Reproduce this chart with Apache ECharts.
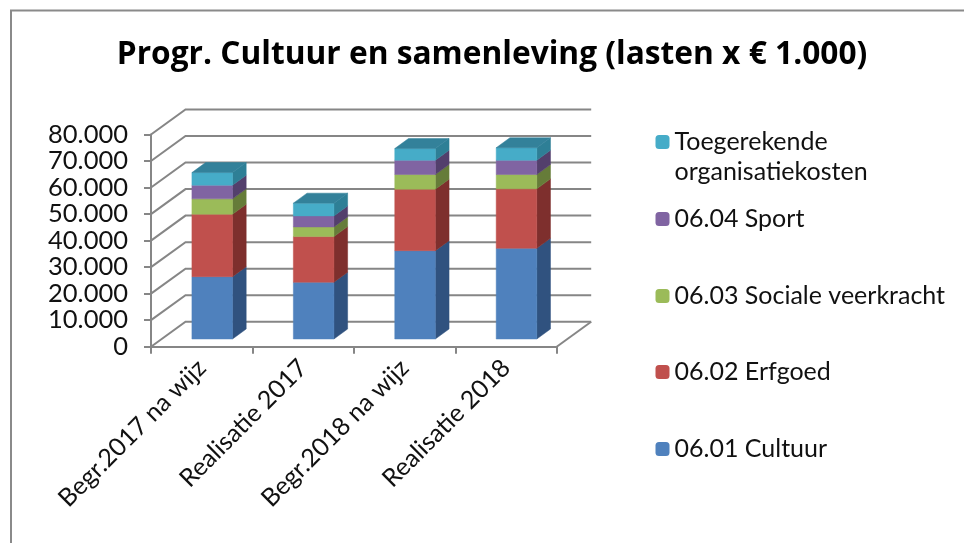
<!DOCTYPE html>
<html>
<head>
<meta charset="utf-8">
<style>html,body{margin:0;padding:0;background:#fff}#c{width:964px;height:543px;filter:blur(0.45px)}</style>
<script src="https://cdn.jsdelivr.net/npm/echarts@6/dist/echarts.min.js"></script>
</head>
<body>
<div id="c"></div>
<script>
const categories = ['Begr.2017 na wijz', 'Realisatie 2017', 'Begr.2018 na wijz', 'Realisatie 2018'];
const yTicks = [0, 10000, 20000, 30000, 40000, 50000, 60000, 70000, 80000];
const cultuur = [23500, 21400, 33300, 34200];
const erfgoed = [23550, 17200, 23200, 22400];
const sociale = [5780, 3660, 5500, 5400];
const sport = [5170, 4150, 5400, 5400];
const organisatie = [4750, 4800, 4400, 4700];

const FONT = 'Lato';
const GREY = '#868686';
const WALL = [34.5, -25], INSET = [10.5, -7.7], DEPTH = [13.7, -10];

const segs = [
  {name: '06.01 Cultuur', values: cultuur, front: '#4f81bd', side: '#30527f', legendTop: 449},
  {name: '06.02 Erfgoed', values: erfgoed, front: '#c0504d', side: '#7e2f2d', legendTop: 372},
  {name: '06.03 Sociale veerkracht', values: sociale, front: '#9bbb59', side: '#667c39', legendTop: 296},
  {name: '06.04 Sport', values: sport, front: '#8064a2', side: '#533f6c', legendTop: 219},
  {name: 'Toegerekende organisatiekosten', values: organisatie, front: '#46acc8', side: '#2e7f96', top: '#33819a', legendTop: 142}
];

const poly = (points, fill) => ({type: 'polygon', shape: {points}, style: {fill, stroke: fill, lineWidth: 0.5}});

function barSeries(seg, idx) {
  return {
    type: 'custom', name: seg.name, z: 5 + idx, silent: true,
    itemStyle: {color: seg.front},
    data: seg.values.map((v, i) => [i, v]),
    encode: {x: 0, y: 1},
    renderItem(params, api) {
      const i = api.value(0);
      let base = 0;
      for (let k = 0; k < idx; k++) base += segs[k].values[i];
      const bot = api.coord([i, base]), top = api.coord([i, base + api.value(1)]);
      const w = api.size([1, 0])[0] * 0.4;
      const x0 = bot[0] + INSET[0] - w / 2, x1 = x0 + w;
      const yb = bot[1] + INSET[1], yt = top[1] + INSET[1];
      const ch = [
        poly([[x1, yb], [x1 + DEPTH[0], yb + DEPTH[1]], [x1 + DEPTH[0], yt + DEPTH[1]], [x1, yt]], seg.side),
        poly([[x0, yb], [x1, yb], [x1, yt], [x0, yt]], seg.front)
      ];
      if (seg.top) ch.push(poly([[x0, yt], [x1, yt], [x1 + DEPTH[0], yt + DEPTH[1]], [x0 + DEPTH[0], yt + DEPTH[1]]], seg.top));
      return {type: 'group', children: ch};
    }
  };
}

const wallSeries = {
  type: 'custom', name: 'wall', z: 1, silent: true,
  data: yTicks.map(v => [0, v]),
  encode: {x: 0, y: 1},
  renderItem(params, api) {
    const band = api.size([1, 0])[0];
    const p = api.coord([0, api.value(1)]);
    const x0 = p[0] - band / 2, y = p[1];
    const x1 = x0 + band * categories.length;
    const lineStyle = {stroke: GREY, lineWidth: 2, fill: 'none'};
    const ch = [
      {type: 'polyline', shape: {points: [[x0, y], [x0 + WALL[0], y + WALL[1]], [x1 + WALL[0], y + WALL[1]]]}, style: lineStyle}
    ];
    if (api.value(1) === 0) {
      ch.push({type: 'line', shape: {x1: x1, y1: y, x2: x1 + WALL[0], y2: y + WALL[1]}, style: lineStyle});
    }
    return {type: 'group', children: ch};
  }
};

const legends = segs.map(s => ({
  show: true, data: [s.name], left: 655.5, top: s.name.startsWith('Toeg') ? 142 - 45 : s.legendTop - 15,
  orient: 'vertical', padding: 0, itemWidth: 14, itemHeight: 14, itemGap: 0, selectedMode: false,
  textStyle: {fontFamily: FONT, fontSize: 25, color: '#111', lineHeight: 30},
  formatter: n => n.startsWith('Toeg') ? ' \nToegerekende\norganisatiekosten' : n
}));

const chart = echarts.init(document.getElementById('c'), null, {renderer: 'canvas'});
chart.setOption({
  animation: false,
  backgroundColor: '#fff',
  title: {
    text: 'Progr. Cultuur en samenleving (lasten x € 1.000)',
    left: 487, top: 34, textAlign: 'center',
    textStyle: {fontFamily: 'Open Sans', fontSize: 31.7, fontWeight: 'bold', color: '#000'}
  },
  legend: legends,
  grid: {left: 151, top: 134.5, width: 405.7, height: 212.2, containLabel: false},
  xAxis: {
    type: 'category', data: categories,
    axisLine: {lineStyle: {color: GREY, width: 2}},
    axisTick: {show: true, alignWithLabel: false, length: 7, lineStyle: {color: GREY, width: 2}},
    axisLabel: {interval: 0, rotate: 45, margin: 17, fontFamily: FONT, fontSize: 25, color: '#111'},
    splitLine: {show: false}
  },
  yAxis: {
    type: 'value', min: 0, max: 80000, interval: 10000,
    axisLine: {show: true, lineStyle: {color: GREY, width: 2}},
    axisTick: {show: true, length: 7, lineStyle: {color: GREY, width: 2}},
    axisLabel: {margin: 23, color: '#111', fontFamily: FONT, fontSize: 25.5,
      formatter: v => String(v).replace(/\B(?=(\d{3})+$)/g, '.')},
    splitLine: {show: false}
  },
  series: [wallSeries].concat(segs.map(barSeries)),
  graphic: [
    {type: 'polyline', silent: true, z: 0, shape: {points: [[964, 10.5], [11, 10.5], [11, 543]]},
      style: {stroke: '#8a8a8a', lineWidth: 2, fill: 'none'}}
  ]
});
</script>
</body>
</html>
